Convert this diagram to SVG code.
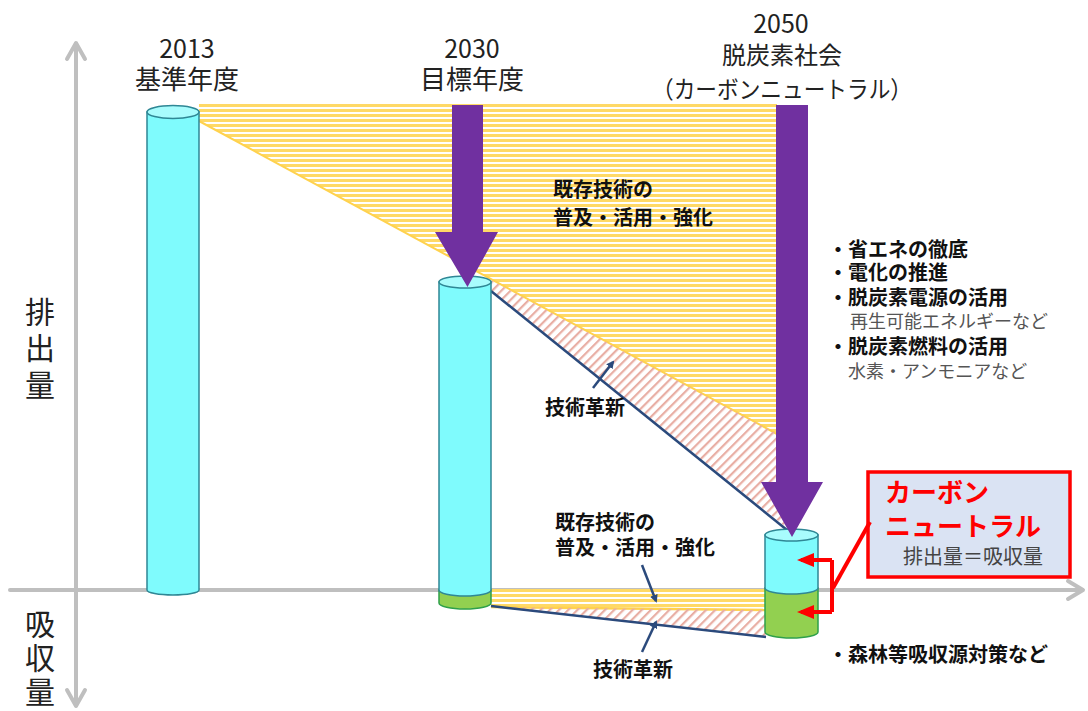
<svg xmlns="http://www.w3.org/2000/svg" width="1088" height="711" viewBox="0 0 1088 711">
<defs>
<style>
.lbl{font-family:"Noto Sans CJK JP","Noto Sans",sans-serif;fill:#222;}
.b{font-family:"Noto Sans CJK JP","Noto Sans",sans-serif;font-weight:bold;fill:#111;}
.g{font-family:"Noto Sans CJK JP","Noto Sans",sans-serif;font-weight:normal;fill:#555;}
.axis{stroke:#bfbfbf;stroke-width:4;fill:none;stroke-linecap:round;stroke-linejoin:round;}
.cyan{fill:#7ffbfd;stroke:#2f8795;stroke-width:1.5;}
.cyantop{fill:#a8fcfd;stroke:#2f8795;stroke-width:1.5;}
.green{fill:#92d050;stroke:#2ea04a;stroke-width:1.5;}
.purple{fill:#7030a0;}
.navy{stroke:#2b4a7c;stroke-width:2.5;fill:none;}
.red{stroke:#ff0000;stroke-width:4;fill:none;}
</style>
<pattern id="yh" patternUnits="userSpaceOnUse" width="10" height="5" y="104">
<rect x="0" y="0" width="10" height="3" fill="#ffd966"/>
</pattern>
<pattern id="pd" patternUnits="userSpaceOnUse" width="10" height="6.5" patternTransform="rotate(-45)">
<rect x="0" y="0" width="10" height="2.2" fill="#e8aea4"/>
</pattern>
<marker id="an" markerWidth="8" markerHeight="8" refX="6" refY="4" orient="auto" markerUnits="userSpaceOnUse" viewBox="0 0 8 8">
<path d="M0,0 L8,4 L0,8 Z" fill="#2b4a7c"/>
</marker>
<marker id="ar" markerWidth="17" markerHeight="15" refX="13" refY="7.5" orient="auto" markerUnits="userSpaceOnUse" viewBox="0 0 17 15">
<path d="M0,0.5 L17,7.5 L0,14.5 Z" fill="#ff0000"/>
</marker>
</defs>
<rect width="1088" height="711" fill="#ffffff"/>

<g id="axes">
<line class="axis" x1="76" y1="44" x2="76" y2="705"/>
<polyline class="axis" points="67,59 76,43 85,59"/>
<polyline class="axis" points="67,690 76,706 85,690"/>
<line class="axis" x1="10" y1="590" x2="1082" y2="590"/>
<polyline class="axis" points="1068,581 1083,590 1068,599"/>
</g>

<g id="regions">
<polygon points="199,104 777,104 777,434 199,121" fill="url(#yh)"/>
<line x1="199" y1="121" x2="777" y2="434" stroke="#ffd24d" stroke-width="2"/>
<polygon points="491,280 792,442 792,532 491,291" fill="url(#pd)"/>
<line x1="491" y1="291" x2="787" y2="530" stroke="#2b4a7c" stroke-width="2.5"/>
<polygon points="491,589 766,589 766,610 491,606" fill="url(#yh)"/>
<line x1="491" y1="607" x2="766" y2="610" stroke="#ffd24d" stroke-width="2.5"/>
<polygon points="491,607 766,610 766,637" fill="url(#pd)"/>
<line x1="491" y1="606" x2="766" y2="637" stroke="#2b4a7c" stroke-width="2.5"/>
</g>

<g id="cyl2013">
<path class="cyan" d="M147,112 L147,590 A26,5 0 0 0 199,590 L199,112 Z"/>
<ellipse class="cyantop" cx="173" cy="112" rx="26" ry="6.5"/>
</g>

<g id="cyl2030">
<path class="green" d="M439,590 L439,603 A26,6 0 0 0 491,603 L491,590 Z"/>
<path class="cyan" d="M439,282 L439,590 A26,6 0 0 0 491,590 L491,282 Z"/>
<ellipse class="cyantop" cx="465" cy="282" rx="26" ry="6"/>
</g>

<g id="cyl2050">
<path class="green" d="M765,588 L765,632 A26.5,6 0 0 0 818,632 L818,588 Z"/>
<path class="cyan" d="M765,535 L765,588 A26.5,6 0 0 0 818,588 L818,535 Z"/>
<ellipse class="cyantop" cx="791.5" cy="535" rx="26.5" ry="6"/>
</g>

<g id="arrow2030">
<polygon class="purple" points="452,105 483,105 483,232 498,232 467.5,287 435,232 452,232"/>
</g>
<g id="arrow2050">
<polygon class="purple" points="776,105 808,105 808,482 823,482 792,537 761,482 776,482"/>
</g>

<g id="label2013">
<text class="lbl" text-anchor="middle"><tspan x="187" y="58" font-size="25">2013</tspan><tspan x="187" y="89" font-size="26">基準年度</tspan></text>
</g>
<g id="label2030">
<text class="lbl" text-anchor="middle"><tspan x="472" y="58" font-size="25">2030</tspan><tspan x="472" y="89" font-size="26">目標年度</tspan></text>
</g>
<g id="label2050">
<text class="lbl" text-anchor="middle"><tspan x="781" y="33" font-size="25">2050</tspan><tspan x="782" y="64" font-size="24">脱炭素社会</tspan><tspan x="782" y="98" font-size="24" textLength="260" lengthAdjust="spacingAndGlyphs">（カーボンニュートラル）</tspan></text>
</g>

<g id="axis-labels">
<text class="lbl" font-size="30" text-anchor="middle"><tspan x="40" y="323">排</tspan><tspan x="40" y="359">出</tspan><tspan x="40" y="396">量</tspan></text>
<text class="lbl" font-size="30" text-anchor="middle"><tspan x="40" y="635">吸</tspan><tspan x="40" y="669">収</tspan><tspan x="40" y="703">量</tspan></text>
</g>

<g id="note-existing-upper">
<text class="b" font-size="20"><tspan x="553" y="197">既存技術の</tspan><tspan x="553" y="225">普及・活用・強化</tspan></text>
</g>
<g id="note-innovation-upper">
<text class="b" x="545" y="415" font-size="20">技術革新</text>
</g>
<g id="note-existing-lower">
<text class="b" font-size="20"><tspan x="555" y="530">既存技術の</tspan><tspan x="555" y="555">普及・活用・強化</tspan></text>
</g>
<g id="note-innovation-lower">
<text class="b" x="593" y="677" font-size="20">技術革新</text>
</g>

<g id="measures">
<text class="b" font-size="20"><tspan x="828" y="257">・省エネの徹底</tspan><tspan x="828" y="280">・電化の推進</tspan><tspan x="828" y="305">・脱炭素電源の活用</tspan><tspan class="g" x="850" y="328" font-size="18">再生可能エネルギーなど</tspan><tspan x="828" y="354">・脱炭素燃料の活用</tspan><tspan class="g" x="848" y="378" font-size="18">水素・アンモニアなど</tspan></text>
</g>
<g id="absorption">
<text class="b" x="828" y="662" font-size="20">・森林等吸収源対策など</text>
</g>

<g id="cn-box">
<rect x="868" y="472" width="202" height="105" fill="#dae3f3" stroke="#ff0000" stroke-width="3.5"/>
<text class="b" font-size="26" style="fill:#ff0000"><tspan x="885" y="502">カーボン</tspan><tspan x="885" y="536">ニュートラル</tspan><tspan class="g" x="903" y="564" font-size="20" style="fill:#444">排出量＝吸収量</tspan></text>
</g>

<g id="connectors">
<line class="navy" x1="593" y1="388" x2="613" y2="362" marker-end="url(#an)"/>
<line class="navy" x1="642" y1="565" x2="656" y2="601" marker-end="url(#an)"/>
<line class="navy" x1="642" y1="652" x2="656" y2="622" marker-end="url(#an)"/>
<polyline class="red" points="832,560 832,612"/>
<line class="red" x1="832" y1="560" x2="801" y2="560" marker-end="url(#ar)"/>
<line class="red" x1="832" y1="612" x2="801" y2="612" marker-end="url(#ar)"/>
<line class="red" x1="833" y1="588" x2="870" y2="522"/>
</g>
</svg>
